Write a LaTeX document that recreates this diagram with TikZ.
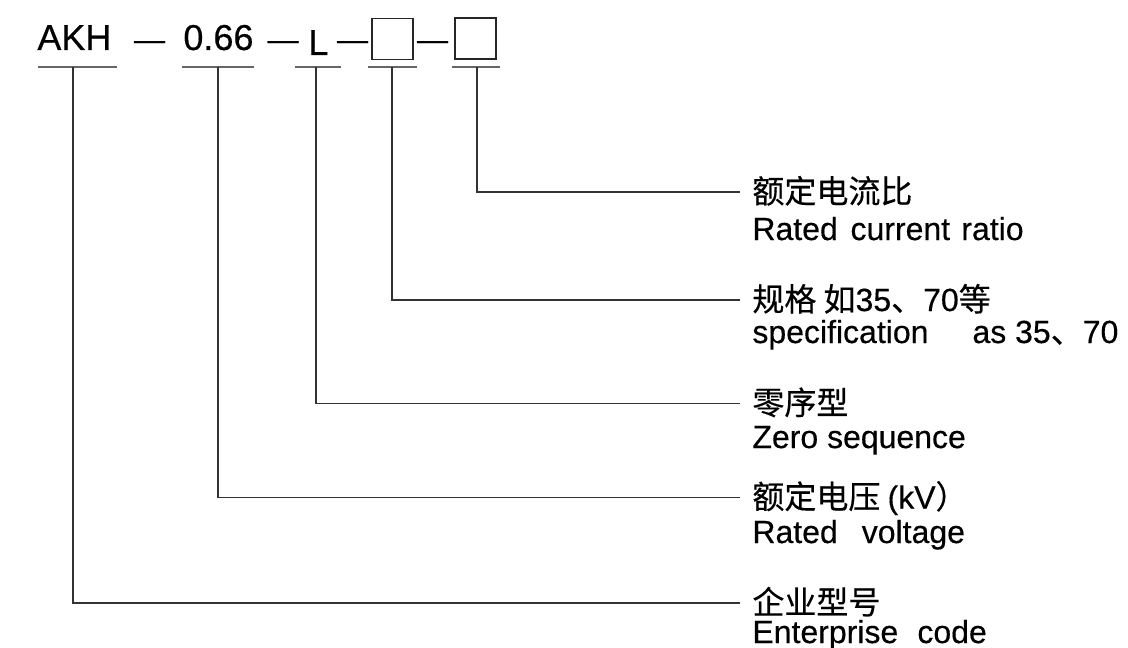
\documentclass[tikz,border=0pt]{standalone}
\usepackage{fontspec}
\setmainfont[FakeBold=0.4]{Liberation Sans}
\newfontfamily\cjk[FakeBold=0.4]{Noto Sans CJK SC}
\usetikzlibrary{positioning}

\begin{document}
\begin{tikzpicture}
  [
    x=0.5pt, y=-0.5pt,
    code/.style={
       anchor=base west,
       inner sep=0pt,
       font=\fontsize{18}{20}\selectfont
    },
    codedash/.style={
       anchor=base,
       inner sep=0pt,
       font=\fontsize{15.5}{18}\selectfont
    },
    slot/.style={
       draw=black!85,
       line width=0.75pt,
       minimum size=20.5pt,
       inner sep=0pt
    },
    uline/.style={
       draw=black!60,
       line width=1pt
    },
    conn/.style={
       draw=black!80,
       line width=0.8pt
    },
    zh/.style={
       anchor=west,
       inner xsep=6pt, inner ysep=0pt,
       text height=13pt, text depth=2pt,
       font=\fontsize{16}{18}\cjk
    },
    en/.style={
       anchor=base west,
       inner xsep=6pt, inner ysep=0pt,
       font=\fontsize{16}{18}\selectfont
    }
  ]
  \useasboundingbox (0,0) rectangle (1128,647);

  % model code
  \node (akh)   at ( 37,50) [code]     {AKH};
  \node (d1)    at (149.5,50) [codedash] {—};
  \node (volt)  at (183,50) [code]     {0.66};
  \node (d2)    at (283,50) [codedash] {—};
  \node (ltype) at (308,55) [code]     {L};
  \node (d3)    at (352.5,50) [codedash] {—};
  \node (spec)  at (392.5,39) [slot]   {};
  \node (d4)    at (432.5,50) [codedash] {—};
  \node (ratio) at (475.5,38.5) [slot] {};

  % underlines
  \draw [uline] ( 38,67) -- (117,67);
  \draw [uline] (182,67) -- (254,67);
  \draw [uline] (295,67) -- (341,67);
  \draw [uline] (368,67) -- (417,67);
  \draw [uline] (452,67) -- (500,67);
  \coordinate (uAkh)   at ( 73,67);
  \coordinate (uVolt)  at (218,67);
  \coordinate (uLtype) at (316,67);
  \coordinate (uSpec)  at (392,67);
  \coordinate (uRatio) at (477,67);

  % explanations
  \node (zhRatio) at (740,192)   [zh] {额定电流比};
  \node (enRatio) at (740,240)   [en] {Rated\hspace{0.4em}current\hspace{0.35em}ratio};

  \node (zhSpec)  at (740,300)   [zh] {规格 如{\rmfamily 35}、{\rmfamily 70}等};
  \node (enSpec)  at (740,343)   [en] {specification\hspace{22pt}as 35{\cjk 、}70};

  \node (zhLtype) at (740,403.5) [zh] {零序型};
  \node (enLtype) at (740,448)   [en] {Zero sequence};

  \node (zhVolt)  at (740,497.5) [zh] {额定电压 {\rmfamily (kV}）};
  \node (enVolt)  at (740,543)   [en] {Rated\hspace{0.75em}voltage};

  \node (zhAkh)   at (740,603)   [zh] {企业型号};
  \node (enAkh)   at (740,643)   [en] {Enterprise\hspace{0.6em}code};

  % connectors
  \draw [conn] (uRatio) |- (zhRatio.west);
  \draw [conn] (uSpec)  |- (zhSpec.west);
  \draw [conn] (uLtype) |- (zhLtype.west);
  \draw [conn] (uVolt)  |- (zhVolt.west);
  \draw [conn] (uAkh)   |- (zhAkh.west);
\end{tikzpicture}
\end{document}
